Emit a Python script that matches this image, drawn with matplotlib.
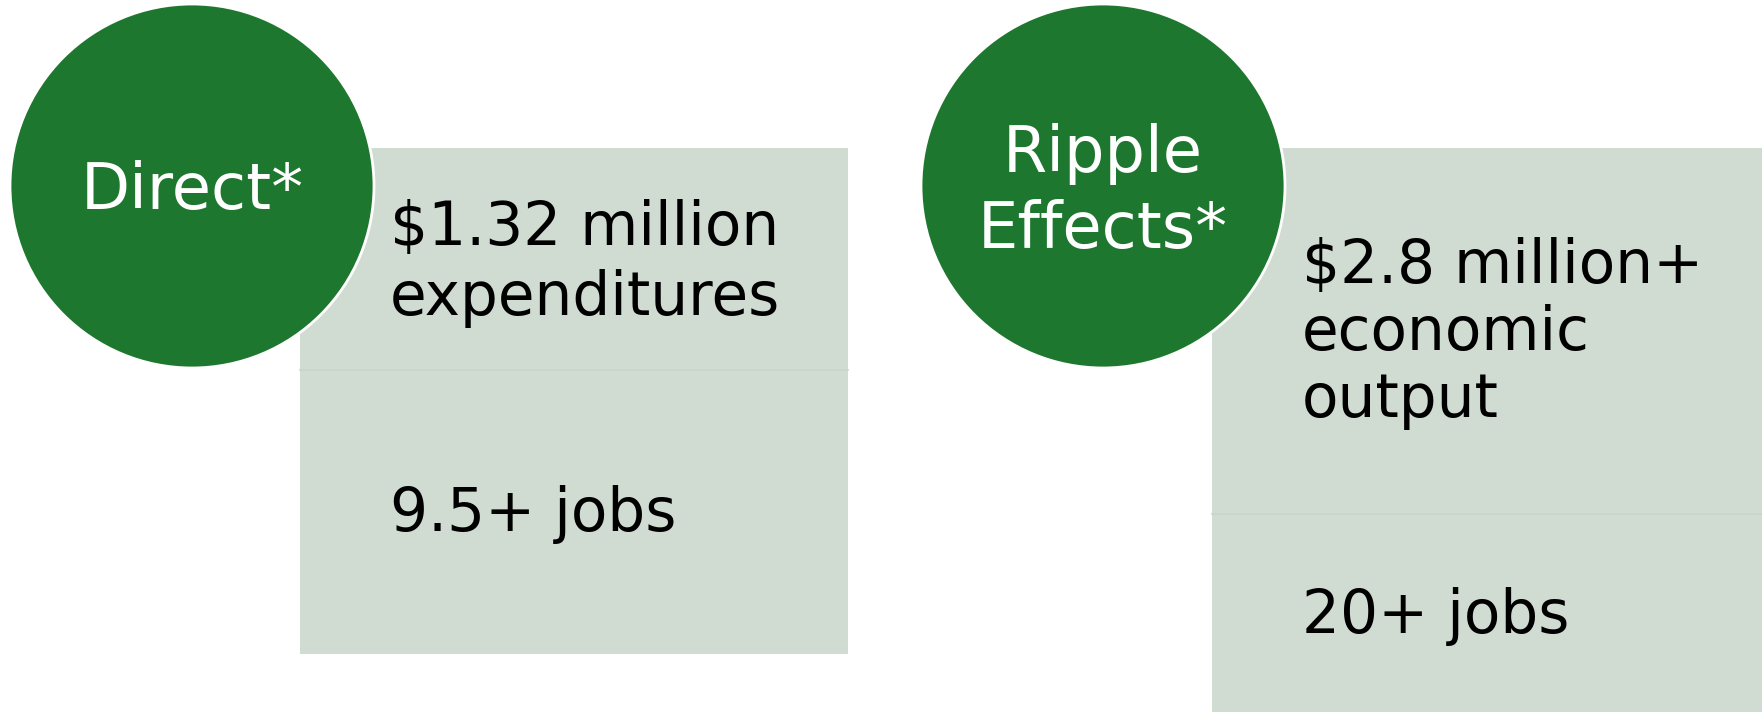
import matplotlib.pyplot as plt
from matplotlib.patches import Circle, Rectangle

# Content
titles = ["Direct*", "Ripple\nEffects*"]
top_texts = ["$1.32 million\nexpenditures", "$2.8 million+\neconomic\noutput"]
bottom_texts = ["9.5+ jobs", "20+ jobs"]

# Layout (pixel units, y down)
W, H = 1762, 712
circle_cx = [192, 1103]
circle_cy = 186
circle_r = 182
box_x = [300, 1212]
box_w = [548, 550]
box_top = 148
box_bottom = [654, 712]
divider_y = [370, 514]
title_baseline = [209, 172]
top_baseline = [245, 283]
body_gap = [70, 67]
bottom_baseline = [531, 633]
text_x = [390, 1302]

GREEN = "#1e772e"
BOX = "#d0dbd2"
DIVIDER = "#c9d5ca"
FONT = "DejaVu Sans"

fig = plt.figure(figsize=(W / 100, H / 100), dpi=100)
ax = fig.add_axes([0, 0, 1, 1])
ax.set_xlim(0, W)
ax.set_ylim(H, 0)
ax.axis("off")

title_size = 46
body_size = 43
title_gap = 76

for i in range(2):
    ax.add_patch(Rectangle((box_x[i], box_top), box_w[i], box_bottom[i] - box_top,
                           facecolor=BOX, edgecolor="none", zorder=1))
    ax.plot([box_x[i], box_x[i] + box_w[i]], [divider_y[i], divider_y[i]],
            color=DIVIDER, lw=1.2, zorder=2)
    ax.add_patch(Circle((circle_cx[i], circle_cy), circle_r, facecolor=GREEN,
                        edgecolor="white", lw=2, zorder=3))

    for j, line in enumerate(titles[i].split("\n")):
        ax.text(circle_cx[i], title_baseline[i] + j * title_gap, line, color="white",
                fontsize=title_size, family=FONT,
                ha="center", va="baseline", zorder=4, parse_math=False)

    for j, line in enumerate(top_texts[i].split("\n")):
        ax.text(text_x[i], top_baseline[i] + j * body_gap[i], line, color="black",
                fontsize=body_size, family=FONT,
                ha="left", va="baseline", zorder=4, parse_math=False)

    ax.text(text_x[i], bottom_baseline[i], bottom_texts[i], color="black",
            fontsize=body_size, family=FONT,
            ha="left", va="baseline", zorder=4, parse_math=False)

plt.savefig("out.png", dpi=100)
plt.close()
